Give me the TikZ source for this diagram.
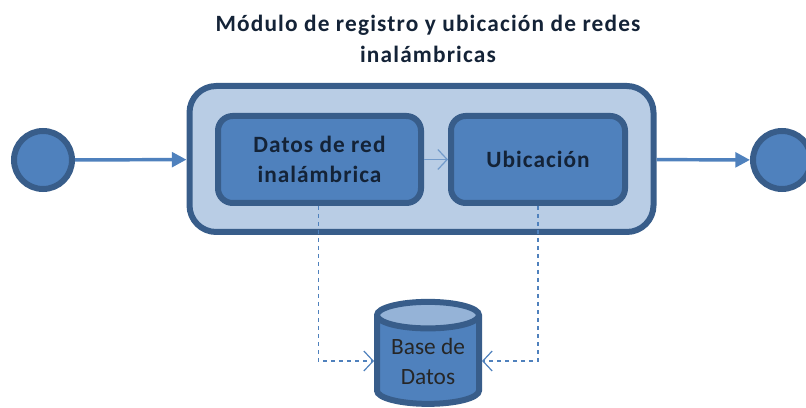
\documentclass[tikz,border=0pt]{standalone}
\usepackage{fontspec}
\setmainfont{Carlito}
\usetikzlibrary{arrows.meta,shapes.geometric}
\definecolor{bluefill}{RGB}{79,129,189}
\definecolor{blueline}{RGB}{56,93,138}
\definecolor{bluepale}{RGB}{185,205,229}
\definecolor{bluetop}{RGB}{149,179,215}
\definecolor{darktext}{RGB}{20,35,55}
\tikzset{
  event/.style={circle,draw=blueline,fill=bluefill,line width=4.5pt,minimum size=58*0.75pt,inner sep=0pt},
  task/.style={rectangle,rounded corners=11pt,draw=blueline,fill=bluefill,line width=4.5pt,inner sep=0pt,align=center,text=darktext,font=\bfseries\fontsize{17.5}{22.5}\selectfont\addfontfeature{LetterSpace=4.4}},
  flow/.style={draw=bluefill,line width=2.6pt,-{Triangle[length=11pt,width=11pt]}},
  link/.style={draw=bluefill!80,line width=0.9pt,-{Straight Barb[length=7pt,width=15pt]}},
  dep/.style={draw=bluefill,line width=0.9pt,dashed,-{Straight Barb[length=7pt,width=15pt]}}
}
\begin{document}
\begin{tikzpicture}[x=0.75pt,y=0.75pt]
\useasboundingbox (0,0) rectangle (806,407);
\node[font=\bfseries\fontsize{17.5}{23}\selectfont\addfontfeature{LetterSpace=5},align=center,text=darktext] (title) at (428,368) {Módulo de registro y ubicación de redes\\inalámbricas};
\node[event] (start) at (43,247) {};
\node[event] (end) at (782,247) {};
\node[task,rounded corners=20pt,fill=bluepale,minimum width=464*0.75pt,minimum height=146*0.75pt] (modulo) at (421.5,248) {};
\node[task,minimum width=203*0.75pt,minimum height=87*0.75pt] (datos) at (319.5,247.5) {Datos de red\\inalámbrica};
\node[task,minimum width=174*0.75pt,minimum height=87*0.75pt] (ubicacion) at (538,247.5) {Ubicación};
\node[cylinder,shape border rotate=90,aspect=0.36,draw=blueline,line width=4.5pt,cylinder uses custom fill,cylinder body fill=bluefill,cylinder end fill=bluetop,minimum width=102*0.75pt,minimum height=102*0.75pt,inner sep=0pt,align=center,text=black!85,font=\fontsize{17.5}{22.5}\selectfont] (base) at (428,46) {Base de\\Datos};
\draw[flow] (start) -- (modulo);
\draw[flow] (modulo) -- (end);
\draw[link] (datos) -- (ubicacion);
\draw[dep] ([xshift=-1pt]datos.south) |- (base.west);
\draw[dep] (ubicacion.south) |- (base.east);
\end{tikzpicture}
\end{document}
